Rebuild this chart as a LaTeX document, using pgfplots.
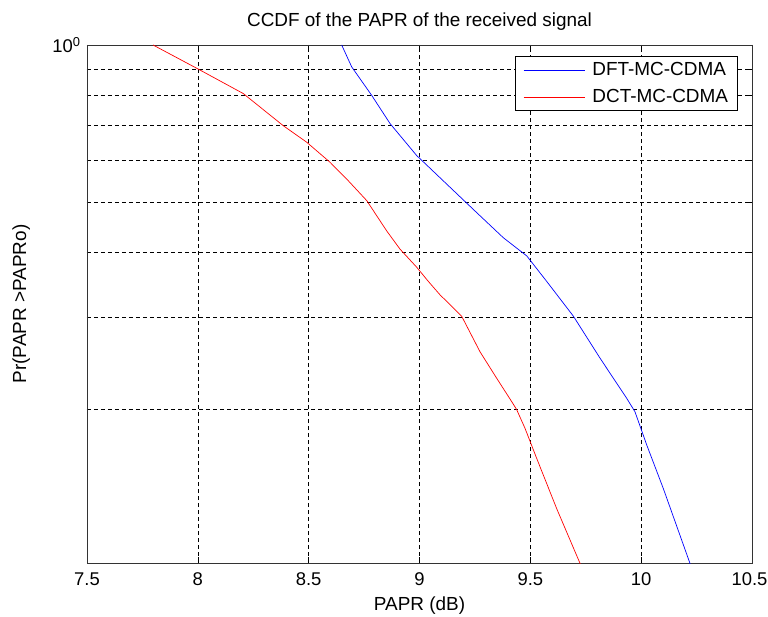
\documentclass[border=0pt]{standalone}
\usepackage{pgfplots}
\pgfplotsset{compat=1.18}
\usepackage{fontspec}
\setmainfont{Liberation Sans}

\begin{document}
\fontsize{19}{22}\selectfont
\begin{tikzpicture}
\useasboundingbox (-87bp,-54bp) rectangle (681bp,563bp);
\begin{axis}[
    at={(0,0)}, anchor=south west,
    scale only axis,
    width=665bp, height=518bp,
    ymode=log,
    xmin=7.5, xmax=10.5,
    ymin=0.1015, ymax=1,
    xtick={7.5,8,8.5,9,9.5,10,10.5},
    xticklabels={7.5,8,8.5,9,9.5,10,10.5\kern5bp},
    ytick={1},
    yticklabels={10\textsuperscript{0}},
    minor ytick={0.2,0.3,0.4,0.5,0.6,0.7,0.8,0.9},
    xmajorgrids, yminorgrids,
    grid style={black, dash pattern=on 4bp off 3bp, line width=0.6bp},
    minor grid style={black, dash pattern=on 4bp off 3bp, line width=0.6bp},
    tick align=inside,
    major tick length=6bp, minor tick length=4bp,
    tick style={black, line width=0.6bp},
    axis line style={black!80, line width=0.9bp},
    ticklabel style={font=\fontsize{18.5}{22}\selectfont},
    xticklabel style={yshift=-3bp},
    xlabel={PAPR (dB)},
    ylabel={Pr(PAPR >PAPRo)},
    title={CCDF of the PAPR of the received signal},
    title style={yshift=2bp, font=\fontsize{19}{22}\selectfont},
    xlabel style={yshift=2bp, font=\fontsize{19}{22}\selectfont},
    ylabel style={at={(axis description cs:-0.122,0.5)}, anchor=north,
        font=\fontsize{19}{22}\selectfont},
    legend style={at={(1,1)}, xshift=-14bp, yshift=-11bp, anchor=north east,
        draw=black, line width=0.9bp, font=\fontsize{19}{22}\selectfont,
        row sep=8bp, inner xsep=8bp, inner ysep=4bp,
        nodes={inner sep=1.5bp}},
    legend cell align=left,
    legend image code/.code={\draw[#1] (0bp,0bp) -- (61bp,0bp); \path (67bp,0bp);},
]
\addplot[blue, line width=0.7bp] coordinates {
    (8.649,1.0) (8.694,0.908) (8.784,0.801) (8.867,0.707) (8.987,0.614)
    (9.153,0.526) (9.258,0.477) (9.378,0.427) (9.484,0.394) (9.574,0.352)
    (9.694,0.302) (9.814,0.251) (9.935,0.210) (9.972,0.198) (10.025,0.171)
    (10.10,0.141) (10.225,0.100)
};
\addlegendentry{DFT-MC-CDMA}
\addplot[red, line width=0.7bp] coordinates {
    (7.798,1.0) (8.0,0.90) (8.205,0.807) (8.386,0.70) (8.491,0.651)
    (8.596,0.596) (8.672,0.553) (8.762,0.503) (8.852,0.44) (8.912,0.406)
    (8.987,0.375) (9.04,0.352) (9.092,0.332) (9.19,0.302) (9.273,0.258)
    (9.348,0.2296) (9.416,0.207) (9.438,0.2) (9.476,0.184) (9.529,0.161)
    (9.619,0.129) (9.73,0.100)
};
\addlegendentry{DCT-MC-CDMA}
\end{axis}
\end{tikzpicture}
\end{document}
